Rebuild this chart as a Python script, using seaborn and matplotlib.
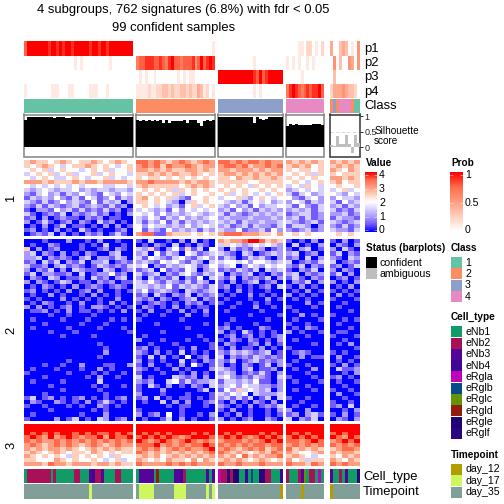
import numpy as np
import matplotlib
matplotlib.use("Agg")
import matplotlib.pyplot as plt
from matplotlib.colors import LinearSegmentedColormap, ListedColormap
from matplotlib.patches import Rectangle
import seaborn as sns

sns.set_theme(style="white")
plt.rcParams["font.family"] = ["Liberation Sans", "DejaVu Sans"]
plt.rcParams["text.color"] = "black"

# ---- data ----------------------------------------------------------------
TITLE1 = "4 subgroups, 762 signatures (6.8%) with fdr < 0.05"
TITLE2 = "99 confident samples"
CLASS_NAMES = ["1", "2", "3", "4"]
CELL_TYPES = ["eNb1", "eNb2", "eNb3", "eNb4", "eRgla", "eRglb", "eRglc", "eRgld", "eRgle", "eRglf"]
TIMEPOINTS = ["day_12", "day_17", "day_35"]

# membership probabilities per sample, digit / 9
P1 = ["7999999989989899899999899899899999999", "000000000000000000000000001",
      "0000000000000000000000", "0000110220102", "4003430105"]
P2 = ["0000000000000000010100000000010000000", "677888778768977677785797898",
      "0000000000001000000000", "1010100101000", "0503005405"]
P3 = ["0000000000000000000000000000000000000", "010100100000001010110000000",
      "9999999999998797899999", "0000010000000", "0300000000"]
P4 = ["1000000001110001100000111000100000000", "111121122332322332322431201",
      "0000000000001010000000", "6898767878897", "2444543320"]
CLASS = ["0" * 37, "1" * 27, "2" * 22, "3" * 13, "1213333100"]
CELL = ["0111111110100000011000231120000110000", "022222070000022310000000202",
        "4119188003050099110003", "1000126011040", "2001020009"]
TIME = ["2" * 22 + "1" + "2" * 14, "211111222222211112222222121",
        "2" * 21 + "0", "2222202222222", "0222222222"]

SIL_1 = [.90, .98, .98, .98, .98, .98, .97, .97, .98, .98, .96, .98, .98, .98, .96, .95, .97, .98, .98,
         .98, .97, .98, .98, .93, .98, .98, .98, .98, .98, .98, .92, .98, .98, .98, .98, .98, .98]
SIL_2 = [.88, .86, .88, .86, .88, .86, .88, .86, .87, .80, .87, .80, .84, .85, .86, .86, .88, .78, .87,
         .87, .88, .78, .70, .86, .88, .85, .87]
SIL_3 = [.98, .98, .98, .98, .98, .97, .98, .98, .97, .98, .98, .98, .79, .98, .92, .88, .92, .98, .98,
         .98, .97, .98]
SIL_4 = [.70, .74, .72, .75, .72, .72, .71, .71, .72, .75, .75, .76, .72]
SIL_5 = [.06, .02, .35, .10, .10, .38, .10, -.20, .38, .12]

# expression, digit / 2 gives the value on the 0..4 scale
C1_P1 = ["565545654556545654", "545654345565454345", "454534544345453445", "345453453445345443",
         "434543345434453434", "666565556566566665", "434343434344433443", "323432334232332332",
         "213423132432143243", "132324213143124132", "321312423214132302", "213132123123213120",
         "102214231312131201", "310121302123120102", "120201211021201100", "201310120210312010",
         "010201301101020201", "120102010310100120", "012130201021201310"]
C1_P2 = ["7767656765676", "6767576676566", "6656565566565", "5565656556545", "5455454545454",
         "6676666565665", "5655555456565", "4545453545454", "5454545345445", "5645453214454",
         "5545432035454", "4543423145345", "3432314243434", "4342423234323", "3243132423234",
         "3132413132323", "4243323242343", "4132142323132", "6771165554545"]
C1_P3 = ["77676776766", "67767566767", "66566656566", "56656565656", "55465565565", "55555445555",
         "45454354545", "54545445454", "45345434345", "34453245434", "43231343423", "32423142334",
         "23142313232", "31321232323", "23222322232", "32313223223", "23123132213", "32241223142",
         "67776665546"]
C1_P4 = ["656565", "565645", "545545", "454535", "545454", "454345", "343543", "234343", "313423",
         "421342", "243132", "314213", "232313", "123312", "231312", "321231", "133202", "212312",
         "454544"]
C1_P5 = ["65656", "56565", "65465", "54555", "66565", "56455", "45445", "34534", "43243", "24332",
         "31423", "23132", "31213", "22312", "13221", "32123", "21312", "32213", "45454"]

C2_P1 = ["000100020010200100", "010021000101030010", "502012000100120210", "230210201021002300",
         "223021210230221320", "120313021302230121", "311202312101321213", "202130203211032012",
         "130221120301224120", "021032011203120230", "202101320110212011", "010210102012101210",
         "120101020120200101", "010020100102010100", "101000201010100200", "010210010200102010",
         "202010120102210101", "011201020110101020", "000010010001000000", "010000100010001010",
         "000100000100010000", "010000010000100010", "000010001000000001", "000000100001000000",
         "000000000000000000", "000000000000100000", "000000000000010000", "000000000000020000",
         "000000000000100000", "000000010000000000", "000100100200011002", "010001000100201000",
         "100000010001010010", "000100000010200100", "010000100000300000", "000010000001010010",
         "000000100000100000", "000100000000010000", "130120101201010120", "021002101020131010",
         "100100010100210100", "000010000001010000", "010000000100020000", "100002013010320120"]
C2_P2 = ["1030010203010", "0102103010210", "3251024151304", "2304132043123", "3143213421342",
         "2321434213203", "3402132343124", "1230412143023", "3123021342132", "2031213021403",
         "3242132131320", "3323241323213", "2412321032123", "1203102130212", "2120210123021",
         "1012101021201", "0210102010110", "1020010201020", "0100100020010", "1000000100000",
         "0001000000010", "0000000010000", "0000100000000", "0100000000100", "2000100010010",
         "0010001000001", "1201000102001", "2102010301010", "1030201040120", "2010100301021",
         "1020010204101", "2101002010002", "1000100102010", "3010003212020", "2120034131223",
         "1031020102103", "1000200000130", "2000100010001", "1203010110101", "0100302020012",
         "0000010110010", "1000000100000", "2012040100102", "0100130201001"]
C2_P3 = ["65667887565", "35432343432", "20312132012", "32103201232", "13201323102", "34434244323",
         "23402432434", "12132130323", "30212301021", "21302121302", "10201230120", "12010101203",
         "01020100100", "10100201010", "01000100201", "10010010100", "00100020010", "01000001000",
         "00000100001", "00100000100", "01000010000", "12010002100", "20103101010", "01201201012",
         "10210210102", "02100120201", "10201102010", "21323212301", "30212132121", "21301231212",
         "20102101302", "32102301120", "23201213102", "34212132103", "13323241102", "23424332212",
         "14253432302", "32434032223", "23131301303", "10201021020", "21010201213", "10200100102",
         "01020100101", "20101200210"]
C2_P4 = ["101020", "030102", "102301", "230120", "120302", "301213", "213021", "102130", "230212",
         "131021", "021302", "102010", "010201", "201010", "010100", "000201", "100010", "010000",
         "002010", "010001", "100100", "010210", "201001", "000100", "010000", "000010", "100000",
         "012100", "002011", "010000", "100100", "010020", "000100", "100010", "010001", "000100",
         "010010", "000000", "100100", "001000", "010010", "200200", "120231", "302130"]
C2_P5 = ["10201", "02102", "20310", "13021", "21032", "30121", "12013", "20210", "13020", "01201",
         "20102", "01020", "10101", "02010", "10001", "00100", "01000", "00010", "10000", "00101",
         "01000", "00010", "01100", "10001", "00100", "01020", "00001", "10100", "02001", "01010",
         "10201", "03112", "00102", "12010", "01001", "00100", "10010", "02001", "00100", "10010",
         "12030", "00102", "10201", "02102"]

C3_P1 = ["888888888888888888", "888888888888888888", "878787887878778787", "787686787677868778",
         "767667676767676767", "676567676567656766", "656566565456565655", "565456545546545455",
         "654545435454543544", "554446545445434534", "666576656665665655"]
C3_P2 = ["8888888888888", "8888888888888", "8787878887878", "7878787678887", "8767876787676",
         "7778676767787", "6767567676678", "7656565656567", "5656456565656", "6545465546465",
         "7666676767666"]
C3_P3 = ["88888888888", "88888888888", "87878887878", "78787678787", "67776767878", "76767677677",
         "67656767567", "76565456576", "65647565667", "56565456545", "76676667666"]
C3_P4 = ["888888", "888888", "878788", "787878", "776787", "676767", "756565", "654456", "565434",
         "645355", "766576"]
C3_P5 = ["88888", "88888", "78788", "87687", "67878", "76767", "56776", "65665", "54656", "65465",
         "76766"]

# ---- styles --------------------------------------------------------------
CLASS_COLORS = ["#66C2A5", "#FC8D62", "#8DA0CB", "#E78AC3"]
CELL_COLORS = ["#109B67", "#A81157", "#55049A", "#3F0599", "#BF03B8", "#064C8B", "#639307", "#921D0D",
               "#1D0576", "#2A0582"]
TIME_COLORS = ["#B29D00", "#CDF75C", "#7F9F98"]
VALUE_CMAP = LinearSegmentedColormap.from_list(
    "value", ["#0000FF", "#6F5BFF", "#AA99FF", "#D5CEFF", "#FFFFFF", "#FFD0BF", "#FF9E81", "#FF6D4C", "#FF0000"])
PROB_CMAP = LinearSegmentedColormap.from_list("prob", ["#FFFFFF", "#FFD0BF", "#FF9E81", "#FF6D4C", "#FF0000"])
PANEL_X = [(24, 133), (136, 215), (218, 283), (286, 324), (330, 360)]
W = H = 504


def new_ax(x0, y0, x1, y1):
    return fig.add_axes([x0 / W, 1 - y1 / H, (x1 - x0) / W, (y1 - y0) / H])


def heat(rows, box, cmap, vmin, vmax, scale=1.0):
    ax = new_ax(*box)
    grid = np.array([[int(c) for c in r] for r in rows], dtype=float) * scale
    sns.heatmap(grid, ax=ax, cmap=cmap, vmin=vmin, vmax=vmax, cbar=False,
                xticklabels=False, yticklabels=False, linewidths=0, rasterized=True)
    ax.set_xlabel("")
    ax.set_ylabel("")
    return ax


fig = plt.figure(figsize=(7, 7), dpi=72, facecolor="white")

# annotation tracks
for i, (x0, x1) in enumerate(PANEL_X):
    heat([P1[i]], (x0, 41, x1, 55.5), PROB_CMAP, 0, 1, 1 / 9)
    heat([P2[i]], (x0, 56, x1, 70), PROB_CMAP, 0, 1, 1 / 9)
    heat([P3[i]], (x0, 70, x1, 84), PROB_CMAP, 0, 1, 1 / 9)
    heat([P4[i]], (x0, 84, x1, 98), PROB_CMAP, 0, 1, 1 / 9)
    heat([CLASS[i]], (x0, 99, x1, 113), ListedColormap(CLASS_COLORS), 0, 3)
    heat([CELL[i]], (x0, 469.3, x1, 483), ListedColormap(CELL_COLORS), 0, 9)
    heat([TIME[i]], (x0, 484, x1, 499), ListedColormap(TIME_COLORS), 0, 2)

# silhouette bars
for i, (vals, (x0, x1)) in enumerate(zip([SIL_1, SIL_2, SIL_3, SIL_4, SIL_5], PANEL_X)):
    ax = new_ax(x0, 114.5, x1, 156.5)
    ax.set_axisbelow(True)
    pos = list(range(len(vals)))
    sns.barplot(x=pos, y=vals, ax=ax, width=1, color="#BEBEBE" if i == 4 else "black",
                saturation=1, errorbar=None, linewidth=0, zorder=3)
    ax.set_xlim(-0.5, len(vals) - 0.5)
    ax.set_ylim(-0.31, 1.065)
    ax.set_xticks([])
    ax.set_yticks([])
    ax.set_xlabel("")
    ax.set_ylabel("")
    ax.axhline(0.5, color="#D0D0D0", lw=0.8, ls=(0, (4, 3)), zorder=1)
    for s in ax.spines.values():
        s.set_visible(True)
        s.set_linewidth(1.5)
        s.set_color("#303030" if i == 4 else "#808080")
    if i == 4:
        ax.yaxis.tick_right()
        ax.set_yticks([0, 0.5, 1])
        ax.set_yticklabels(["0", "0.5", "1"], fontsize=9)
        ax.tick_params(axis="y", length=3, width=0.8, pad=1.5, color="black", right=True)

# heatmap body
BLOCKS = [(160, 235.7, [C1_P1, C1_P2, C1_P3, C1_P4, C1_P5]),
          (239, 420.7, [C2_P1, C2_P2, C2_P3, C2_P4, C2_P5]),
          (424, 465.7, [C3_P1, C3_P2, C3_P3, C3_P4, C3_P5])]
for y0, y1, grids in BLOCKS:
    for rows, (x0, x1) in zip(grids, PANEL_X):
        heat(rows, (x0, y0, x1, y1), VALUE_CMAP, 0, 4, 0.5)

# colour bars
cb_v = new_ax(365, 172, 377, 232)
sns.heatmap(np.array([[4 - 4 * k / 59] for k in range(60)]), ax=cb_v, cmap=VALUE_CMAP, vmin=0, vmax=4,
            cbar=False, xticklabels=False, yticklabels=False, rasterized=True)
cb_p = new_ax(450, 172, 463, 232)
sns.heatmap(np.array([[1 - k / 59] for k in range(60)]), ax=cb_p, cmap=PROB_CMAP, vmin=0, vmax=1,
            cbar=False, xticklabels=False, yticklabels=False, rasterized=True)

# overlay in pixel coordinates for text and legend keys
ov = fig.add_axes([0, 0, 1, 1], zorder=10)
ov.set_xlim(0, W)
ov.set_ylim(H, 0)
ov.axis("off")
ov.patch.set_alpha(0)


def txt(x, y, s, size=10.5, weight="normal", ha="left", rot=0):
    ov.text(x, y, s, fontsize=size, fontweight=weight, ha=ha, va="center", rotation=rot, color="black")


def key(x, y, color, w=11, h=11):
    ov.add_patch(Rectangle((x, y - h / 2), w, h, facecolor=color, edgecolor="none"))


txt(183, 10, TITLE1, 13, ha="center")
txt(174, 28.5, TITLE2, 13, ha="center")
for lab, y in zip(["p1", "p2", "p3", "p4", "Class"], [49, 63, 77, 92, 106]):
    txt(364, y, lab, 13)
txt(375, 131, "Silhouette", 10)
txt(374, 141, "score", 10)
txt(363, 477, "Cell_type", 13)
txt(363, 492, "Timepoint", 13)
for lab, y in zip(["1", "2", "3"], [198, 330, 445]):
    txt(11, y, lab, 13, ha="center", rot=90)

txt(366, 163.5, "Value", 10, "bold")
for v, y in zip([4, 3, 2, 1, 0], [174.5, 189, 202.5, 216.5, 230]):
    txt(379, y, str(v))
    ov.plot([365, 368], [y, y], color="white", lw=0.6, alpha=0.7)
    ov.plot([374, 377], [y, y], color="white", lw=0.6, alpha=0.7)
txt(451, 163.5, "Prob", 10, "bold")
for v, y in zip(["1", "0.5", "0"], [174.5, 202.5, 230]):
    txt(465, y, v)
    ov.plot([450, 453], [y, y], color="white", lw=0.6, alpha=0.7)
    ov.plot([460, 463], [y, y], color="white", lw=0.6, alpha=0.7)

txt(366, 248, "Status (barplots)", 10, "bold")
key(366, 262, "black")
key(366, 273.5, "#BEBEBE")
txt(380, 263, "confident")
txt(380, 274, "ambiguous")

txt(451, 248, "Class", 10, "bold")
for k, (lab, col) in enumerate(zip(CLASS_NAMES, CLASS_COLORS)):
    key(451, 262 + 11.5 * k, col)
    txt(465, 262.5 + 11.5 * k, lab)

txt(451, 317, "Cell_type", 10, "bold")
for k, (lab, col) in enumerate(zip(CELL_TYPES, CELL_COLORS)):
    key(451, 331.7 + 11.3 * k, col)
    txt(465, 331.7 + 11.3 * k, lab)

txt(451, 455, "Timepoint", 10, "bold")
for k, (lab, col) in enumerate(zip(TIMEPOINTS, TIME_COLORS)):
    key(451, 469 + 11.5 * k, col)
    txt(465, 469 + 11.5 * k, lab)

fig.savefig("out.png", dpi=72, facecolor="white")
